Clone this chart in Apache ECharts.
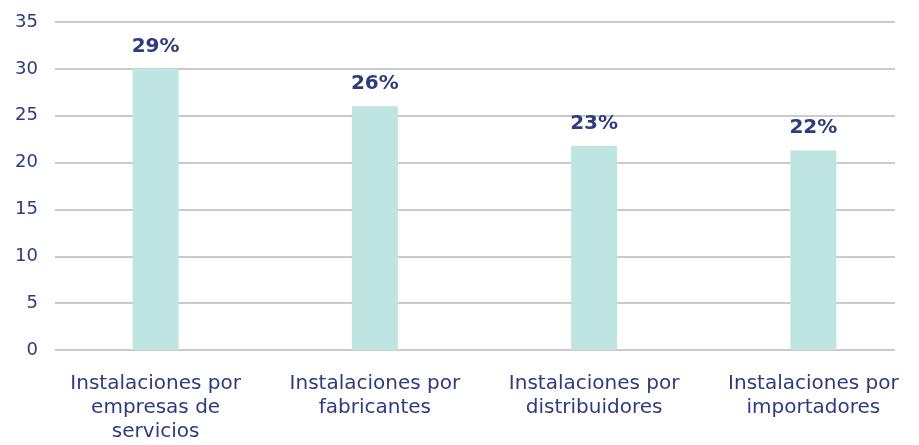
<html>
<head>
<script src="https://cdnjs.cloudflare.com/ajax/libs/echarts/6.0.0/echarts.min.js"></script>
<style>
  html, body { margin: 0; padding: 0; background: #fff; }
  #container { width: 919px; height: 445px; }
</style>
</head>
<body>
<div id="container"></div>
<script type="text/javascript">
var categories = [
    'Instalaciones por\nempresas de\nservicios',
    'Instalaciones por\nfabricantes',
    'Instalaciones por\ndistribuidores',
    'Instalaciones por\nimportadores'
];
var values = [30, 26, 21.8, 21.3];
var labels = ['29%', '26%', '23%', '22%'];
var yTicks = [0, 5, 10, 15, 20, 25, 30, 35];

var textColor = '#2e3b7e';
var fontName = 'DejaVu Sans';

var myChart = echarts.init(document.getElementById('container'), null, { renderer: 'canvas' });

var option = {
    animation: false,
    grid: [
        // grid for the value axis + gridlines
        { left: 55, right: 24, top: 22, bottom: 95, outerBoundsMode: 'none', containLabel: false },
        // grid for the bars (category bands are slightly offset in the original)
        { left: 46, width: 877, top: 22, bottom: 95, outerBoundsMode: 'none', containLabel: false }
    ],
    xAxis: [
        { gridIndex: 0, type: 'value', show: false, min: 0, max: 1 },
        {
            gridIndex: 1,
            type: 'category',
            data: categories,
            axisLine: { show: false },
            axisTick: { show: false },
            axisLabel: {
                color: textColor,
                fontFamily: fontName,
                fontSize: 20,
                lineHeight: 24,
                margin: 22,
                hideOverlap: false,
                interval: 0
            }
        }
    ],
    yAxis: [
        {
            gridIndex: 0,
            type: 'value',
            min: yTicks[0],
            max: yTicks[yTicks.length - 1],
            interval: 5,
            axisLine: { show: false },
            axisTick: { show: false },
            axisLabel: {
                color: textColor,
                fontFamily: fontName,
                fontSize: 18,
                margin: 17
            },
            splitLine: { lineStyle: { color: '#b8b8b8', width: 1.5 } }
        },
        {
            gridIndex: 1,
            type: 'value',
            min: yTicks[0],
            max: yTicks[yTicks.length - 1],
            show: false,
            splitLine: { show: false }
        }
    ],
    series: [
        {
            type: 'bar',
            xAxisIndex: 1,
            yAxisIndex: 1,
            data: values,
            barWidth: 46,
            itemStyle: { color: '#bfe5e1' },
            label: {
                show: true,
                position: 'top',
                distance: 1,
                color: textColor,
                fontFamily: fontName,
                fontWeight: 'bold',
                fontSize: 20,
                formatter: function (p) { return labels[p.dataIndex]; }
            }
        }
    ]
};

myChart.setOption(option);
</script>
</body>
</html>
